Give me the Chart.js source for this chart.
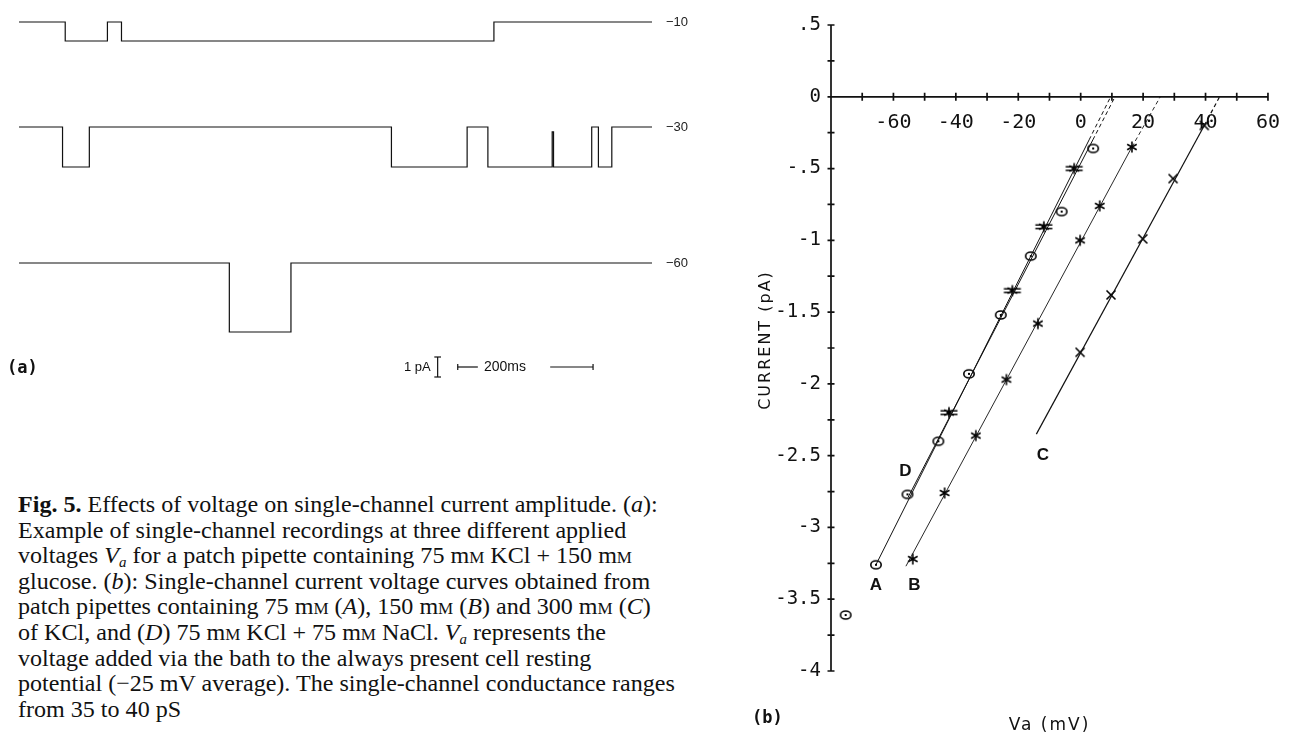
<!DOCTYPE html>
<html>
<head>
<meta charset="utf-8">
<script src="https://cdn.jsdelivr.net/npm/chart.js@4.4.1/dist/chart.umd.min.js"></script>
<style>
body { margin: 0; background: #fff; width: 1294px; height: 739px; overflow: hidden; position: relative; color: #111; }
#traces { position: absolute; left: 0; top: 0; }
#iv { position: absolute; left: 750px; top: 0; }
.tag { position: absolute; font-family: "DejaVu Sans Mono", monospace; font-weight: bold; font-size: 17px; line-height: 20px; }
.small { position: absolute; font-family: "Liberation Sans", Arial, sans-serif; font-size: 13px; line-height: 16px; white-space: nowrap; }
#cap { position: absolute; left: 18px; top: 492px; font-family: "Liberation Serif", "Times New Roman", serif; font-size: 20px; line-height: 25.6px; white-space: nowrap; }
#cap sub { font-size: 0.62em; line-height: 0; vertical-align: -0.3em; }
.sc { font-variant: small-caps; }
</style>
</head>
<body>
<canvas id="traces" width="700" height="400"></canvas>
<canvas id="iv" width="544" height="739"></canvas>

<div class="tag" style="left:7px; top:357px;">(a)</div>
<div class="tag" style="left:752px; top:707px;">(b)</div>
<div class="small" style="left:404px; top:359px;">1 pA</div>
<div class="small" style="left:484px; top:358px; font-size:14px;">200ms</div>

<div id="cap">
<div id="capFirst"><b>Fig. 5.</b> Effects of voltage on single-channel current amplitude. (<i>a</i>):</div>
<div>Example of single-channel recordings at three different applied</div>
<div>voltages <i>V<sub>a</sub></i> for a patch pipette containing 75 m<span class="sc">m</span> KCl + 150 m<span class="sc">m</span></div>
<div>glucose. (<i>b</i>): Single-channel current voltage curves obtained from</div>
<div>patch pipettes containing 75 m<span class="sc">m</span> (<i>A</i>), 150 m<span class="sc">m</span> (<i>B</i>) and 300 m<span class="sc">m</span> (<i>C</i>)</div>
<div>of KCl, and (<i>D</i>) 75 m<span class="sc">m</span> KCl + 75 m<span class="sc">m</span> NaCl. <i>V<sub>a</sub></i> represents the</div>
<div>voltage added via the bath to the always present cell resting</div>
<div>potential (−25 mV average). The single-channel conductance ranges</div>
<div>from 35 to 40 pS</div>
</div>

<script>
// ---- panel (a): single-channel records (time in ms, open state per interval)
const traceNames = ['−10', '−30', '−60'];
const traceAmps = [0.95, 2.0, 3.45];   // open-channel amplitude in pA
const trace1Times = [0, 69, 132, 153, 709, 945];
const trace1Open  = [0, 1, 0, 1, 0, 0];
const trace2Times = [0, 65, 105, 556, 669, 700, 796, 798, 855, 865, 885, 945];
const trace2Open  = [0, 1, 0, 1, 0, 1, 0.12, 1, 0, 1, 0, 0];
const trace3Times = [0, 314, 406, 945];
const trace3Open  = [0, 1, 0, 0];

// ---- panel (b): single-channel I-V, Va in mV, current in pA
const voltsA = [-75.3, -65.6, -55.5, -45.6, -35.8, -25.6, -16.0, -6.1, 4.0];
const currA  = [-3.61, -3.26, -2.77, -2.40, -1.93, -1.52, -1.11, -0.80, -0.36];
const voltsB = [-53.8, -43.6, -33.6, -23.8, -13.7, -0.2, 6.1, 16.4];
const currB  = [-3.22, -2.76, -2.36, -1.97, -1.58, -1.00, -0.76, -0.35];
const voltsC = [-0.2, 9.7, 19.9, 29.6, 39.6];
const currC  = [-1.78, -1.38, -0.99, -0.57, -0.20];
const voltsD = [-42.2, -21.9, -11.8, -2.1];
const currD  = [-2.20, -1.35, -0.905, -0.50];

// fitted lines: solid part then dashed extrapolation to the zero-current axis
const fitVoltsA = [-65.6, 2.7, 9.6];
const fitCurrA  = [-3.26, -0.30, 0];
const fitVoltsD = [-55.3, 3.9, 11.0];
const fitCurrD  = [-2.79, -0.30, 0];
const fitVoltsB = [-56.0, 16.4, 25.5];
const fitCurrB  = [-3.27, -0.35, 0];
const fitVoltsC = [-14.2, 39.6, 44.5];
const fitCurrC  = [-2.35, -0.20, 0];

const curveNames = ['A', 'B', 'C', 'D'];
const curveLabelV = [-65.6, -53.3, -12.1, -56.2];
const curveLabelI = [-3.40, -3.40, -2.495, -2.61];

const xTicksMin = -80, xTicksMax = 60;
const yTicksMin = -4, yTicksMax = 0.5;

// ---------- panel (a) ----------
const traceBase = [-1.1, -6.35, -13.15];   // where each record sits on the page (pA units)
const scaleBarT = 625, scaleBarY = -18.35;

const stepData = (times, open, k) =>
    times.map((t, i) => ({ x: t, y: traceBase[k] - open[i] * traceAmps[k] }));

const blackLine = (data, extra) => Object.assign({
    data: data, borderColor: '#111', borderWidth: 1.2, pointRadius: 0, fill: false, tension: 0
}, extra || {});

const traceLabelPlugin = {
    id: 'traceLabels',
    afterDatasetsDraw(chart) {
        const { ctx, scales: { x, y } } = chart;
        ctx.save();
        ctx.fillStyle = '#222';
        ctx.font = '13px "Liberation Sans", Arial, sans-serif';
        ctx.textBaseline = 'middle';
        traceNames.forEach((name, k) => {
            ctx.fillText(name, x.getPixelForValue(x.max) + 14, y.getPixelForValue(traceBase[k]));
        });
        ctx.restore();
    }
};

new Chart(document.getElementById('traces'), {
    type: 'line',
    data: {
        datasets: [
            blackLine(stepData(trace1Times, trace1Open, 0), { stepped: 'before' }),
            blackLine(stepData(trace2Times, trace2Open, 1), { stepped: 'before' }),
            blackLine(stepData(trace3Times, trace3Open, 2), { stepped: 'before' }),
            // 1 pA bar with caps
            blackLine([{ x: scaleBarT, y: scaleBarY + 0.5 }, { x: scaleBarT, y: scaleBarY - 0.5 }]),
            blackLine([{ x: scaleBarT - 5, y: scaleBarY + 0.5 }, { x: scaleBarT + 5, y: scaleBarY + 0.5 }]),
            blackLine([{ x: scaleBarT - 5, y: scaleBarY - 0.5 }, { x: scaleBarT + 5, y: scaleBarY - 0.5 }]),
            // 200 ms bar
            blackLine([{ x: scaleBarT + 30, y: scaleBarY }, { x: scaleBarT + 60, y: scaleBarY }]),
            blackLine([{ x: scaleBarT + 168, y: scaleBarY }, { x: scaleBarT + 232, y: scaleBarY }]),
            blackLine([{ x: scaleBarT + 30, y: scaleBarY + 0.15 }, { x: scaleBarT + 30, y: scaleBarY - 0.15 }]),
            blackLine([{ x: scaleBarT + 232, y: scaleBarY + 0.15 }, { x: scaleBarT + 232, y: scaleBarY - 0.15 }])
        ]
    },
    options: {
        responsive: false,
        animation: false,
        layout: { padding: { left: 19, right: 48, top: 0, bottom: 0 } },
        plugins: { legend: { display: false }, tooltip: { enabled: false } },
        scales: {
            x: { type: 'linear', min: 0, max: 945, display: false },
            y: { type: 'linear', min: -20, max: 0, display: false }
        }
    },
    plugins: [traceLabelPlugin]
});

// ---------- panel (b) ----------
function marker(w, h, draw) {
    const c = document.createElement('canvas');
    c.width = w; c.height = h;
    const g = c.getContext('2d');
    g.strokeStyle = '#000'; g.fillStyle = '#000'; g.lineWidth = 1.6;
    draw(g, w / 2, h / 2);
    return c;
}
function star(g, cx, cy, r) {
    g.beginPath();
    [90, 30, 150].forEach(a => {
        const dx = Math.cos(a * Math.PI / 180) * r, dy = Math.sin(a * Math.PI / 180) * r;
        g.moveTo(cx - dx, cy - dy); g.lineTo(cx + dx, cy + dy);
    });
    g.stroke();
}
const markA = marker(14, 12, (g, cx, cy) => {
    g.beginPath(); g.ellipse(cx, cy, 5.2, 4, 0, 0, Math.PI * 2); g.stroke();
    g.fillRect(cx - 1, cy - 1, 2, 2);
});
const markB = marker(14, 14, (g, cx, cy) => star(g, cx, cy, 5.5));
const markC = marker(12, 12, (g, cx, cy) => {
    g.beginPath();
    g.moveTo(cx - 4.5, cy - 4.5); g.lineTo(cx + 4.5, cy + 4.5);
    g.moveTo(cx + 4.5, cy - 4.5); g.lineTo(cx - 4.5, cy + 4.5);
    g.stroke();
});
const markD = marker(20, 14, (g, cx, cy) => {
    star(g, cx, cy, 5.5);
    g.beginPath();
    g.moveTo(cx - 8.5, cy - 1.8); g.lineTo(cx + 8.5, cy - 1.8);
    g.moveTo(cx - 8.5, cy + 1.8); g.lineTo(cx + 8.5, cy + 1.8);
    g.stroke();
});

const pts = (vs, is) => vs.map((v, i) => ({ x: v, y: is[i] }));
const points = (vs, is, style) => ({
    data: pts(vs, is), showLine: false, pointStyle: style, pointRadius: 5, clip: false
});
const fit = (vs, is, width) => ({
    data: pts(vs, is), showLine: true, pointRadius: 0, borderColor: '#111', borderWidth: width,
    segment: { borderDash: c => c.p1DataIndex === vs.length - 1 ? [4, 3] : undefined }
});

const axesPlugin = {
    id: 'plotterAxes',
    afterDatasetsDraw(chart) {
        const { ctx, scales: { x, y } } = chart;
        const x0 = x.getPixelForValue(xTicksMin);
        const y0 = y.getPixelForValue(0);
        ctx.save();
        ctx.strokeStyle = '#111';
        ctx.lineWidth = 1.7;
        ctx.beginPath();
        ctx.moveTo(x0, y.getPixelForValue(yTicksMax));
        ctx.lineTo(x0, y.getPixelForValue(yTicksMin));
        ctx.moveTo(x0, y0);
        ctx.lineTo(x.getPixelForValue(xTicksMax), y0);
        x.ticks.forEach(t => {
            const px = x.getPixelForValue(t.value);
            ctx.moveTo(px, y0 - 4); ctx.lineTo(px, y0 + 4);
        });
        y.ticks.forEach(t => {
            const py = y.getPixelForValue(t.value);
            ctx.moveTo(x0 - 3.5, py); ctx.lineTo(x0 + 3.5, py);
        });
        ctx.stroke();

        // curve letters
        ctx.fillStyle = '#111';
        ctx.font = 'bold 17px "Liberation Sans", Arial, sans-serif';
        ctx.textAlign = 'center';
        ctx.textBaseline = 'middle';
        curveNames.forEach((n, i) => {
            ctx.fillText(n, x.getPixelForValue(curveLabelV[i]), y.getPixelForValue(curveLabelI[i]));
        });

        // axis titles
        ctx.font = '17px "DejaVu Sans", sans-serif';
        ctx.letterSpacing = '2px';
        ctx.fillText('Va (mV)', (x.left + x.right) / 2, 726);
        ctx.font = '16px "DejaVu Sans", sans-serif';
        ctx.translate(16, (y.top + y.bottom) / 2 - 8);
        ctx.rotate(-Math.PI / 2);
        ctx.fillText('CURRENT (pA)', 0, 0);
        ctx.restore();
    }
};

new Chart(document.getElementById('iv'), {
    type: 'scatter',
    data: {
        datasets: [
            fit(fitVoltsA, fitCurrA, 1),
            fit(fitVoltsD, fitCurrD, 1),
            fit(fitVoltsB, fitCurrB, 0.9),
            fit(fitVoltsC, fitCurrC, 1.2),
            points(voltsA, currA, markA),
            points(voltsB, currB, markB),
            points(voltsC, currC, markC),
            points(voltsD, currD, markD)
        ]
    },
    options: {
        responsive: false,
        animation: false,
        layout: { padding: { left: 0, right: 12, top: 25, bottom: 68 } },
        plugins: { legend: { display: false }, tooltip: { enabled: false } },
        scales: {
            x: {
                type: 'linear',
                position: { y: 0 },
                min: xTicksMin, max: xTicksMax,
                grid: { display: false, drawTicks: false },
                border: { display: false },
                afterFit: s => { s.height = 0; },
                ticks: {
                    stepSize: 10, autoSkip: false, maxRotation: 0, padding: 14,
                    color: '#111', font: { family: 'DejaVu Sans Mono', size: 20 },
                    callback: v => (v % 20 === 0 && v > xTicksMin) ? String(v) : ''
                }
            },
            y: {
                type: 'linear',
                min: yTicksMin, max: yTicksMax,
                grid: { display: false, drawTicks: false },
                border: { display: false },
                afterFit: s => { s.width = 81; },
                ticks: {
                    stepSize: 0.25, autoSkip: false, padding: 10,
                    color: '#111', font: { family: 'DejaVu Sans Mono', size: 19 },
                    callback: v => {
                        if (Math.abs(v * 2 - Math.round(v * 2)) > 1e-6) return '';
                        return String(v).replace('0.', '.');
                    }
                }
            }
        }
    },
    plugins: [axesPlugin]
});

// fit caption width to the printed column
const cap = document.getElementById('cap');
const first = document.getElementById('capFirst');
const range = document.createRange();
range.selectNodeContents(first);
const textW = range.getBoundingClientRect().width;
cap.style.fontSize = (20 * 640 / textW).toFixed(2) + 'px';
</script>
</body>
</html>
